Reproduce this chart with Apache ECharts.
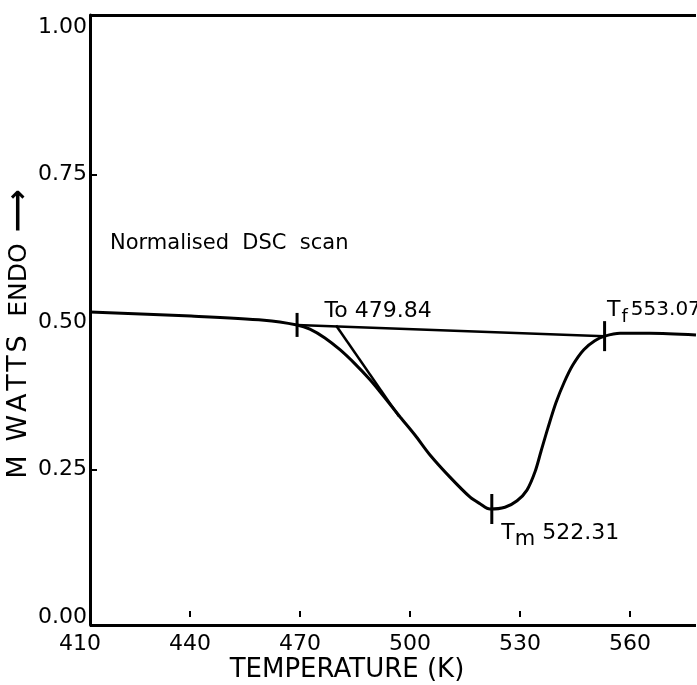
<!DOCTYPE html>
<html>
<head>
<meta charset="utf-8">
<script src="https://cdn.jsdelivr.net/npm/echarts@6/dist/echarts.min.js"></script>
<style>
  html, body { margin: 0; padding: 0; background: #fff; }
  #chart { width: 697px; height: 685px; }
</style>
</head>
<body>
<div id="chart"></div>
<script>
// DSC scan
const temps = [412.7, 440.3, 460.2, 469.2, 472.7, 476.8, 480.9, 485.0, 489.1, 493.2, 497.3, 501.4,
  505.4, 510.9, 516.4, 519.1, 521.8, 525.9, 529.2, 531.9, 534.1, 535.7, 537.6, 539.8, 542.0,
  544.4, 547.4, 550.4, 553.1, 557.3, 565.4, 578.0];
const power = [0.517, 0.510, 0.503, 0.495, 0.488, 0.473, 0.453, 0.429, 0.402, 0.371, 0.339, 0.308,
  0.275, 0.237, 0.203, 0.192, 0.183, 0.186, 0.197, 0.215, 0.246, 0.280, 0.320, 0.363, 0.397,
  0.427, 0.453, 0.468, 0.476, 0.481, 0.481, 0.478];

// extrapolated baseline and onset tangent
const baseline = [[469.2, 0.495], [553.07, 0.476]];
const tangent = [[479.84, 0.494], [497.0, 0.340]];

// marked points: To (tick on curve), Tm, Tf
const markers = [
  { name: 'To', value: 479.84, at: [469.2, 0.495] },
  { name: 'Tm', value: 522.31, at: [522.31, 0.183] },
  { name: 'Tf', value: 553.07, at: [553.07, 0.476] }
];

const xTicks = [440, 470, 500, 530, 560];
const xLabels = [410, 440, 470, 500, 530, 560];
const yTicks = [0.25, 0.75];
const yLabels = [0, 0.25, 0.5, 0.75, 1];

const X_MIN = 410, X_MAX = 578, Y_MIN = -0.0136, Y_MAX = 1.0203;
const AXIS_START = 412.7; // where the drawn frame begins
const FONT = '"DejaVu Sans", "Liberation Sans", sans-serif';

const chart = echarts.init(document.getElementById('chart'), null, { renderer: 'canvas' });

const labelCfg = {
  To: { offset: [26, -14], text: '{t|To}{n| 479.84}' },
  Tm: { offset: [8, 24], text: '{t|T}{s|m}{n| 522.31}' },
  Tf: { offset: [1, -26], text: '{t|T}{f|f}{m|553.07}' }
};

const rich = {
  t: { fontSize: 22, fontFamily: FONT, color: '#000' },
  s: { fontSize: 21, fontFamily: FONT, color: '#000', padding: [14, 0, 0, 0] },
  f: { fontSize: 18, fontFamily: FONT, color: '#000', padding: [14, 3, 0, 1] },
  n: { fontSize: 22, fontFamily: FONT, color: '#000' },
  m: { fontSize: 20, fontFamily: FONT, color: '#000' }
};

const option = {
  backgroundColor: '#fff',
  animation: false,
  grid: { left: 80, right: 1, top: 15, bottom: 60 },
  xAxis: {
    type: 'value',
    min: X_MIN,
    max: X_MAX,
    axisLine: { show: false },
    splitLine: { show: false },
    axisTick: { show: true, inside: true, length: 6, customValues: xTicks, lineStyle: { color: '#000', width: 2 } },
    axisLabel: { customValues: xLabels, color: '#000', fontSize: 22, fontFamily: FONT, margin: 8 }
  },
  yAxis: {
    type: 'value',
    min: Y_MIN,
    max: Y_MAX,
    offset: -10,
    axisLine: { show: true, lineStyle: { color: '#000', width: 3 } },
    splitLine: { show: false },
    axisTick: { show: true, inside: true, length: 7, customValues: yTicks, lineStyle: { color: '#000', width: 2 } },
    axisLabel: {
      customValues: yLabels, color: '#000', fontSize: 22, fontFamily: FONT, margin: 3,
      formatter: v => v.toFixed(2)
    }
  },
  graphic: [
    {
      type: 'text', x: 19, y: 407, rotation: Math.PI / 2,
      style: { text: 'M\u200a \u200aW\u200aA\u200aT\u200aT\u200aS', fill: '#000', font: '27px ' + FONT, textAlign: 'center', textVerticalAlign: 'middle' }
    },
    {
      type: 'text', x: 19, y: 280, rotation: Math.PI / 2,
      style: { text: 'ENDO', fill: '#000', font: '25px ' + FONT, textAlign: 'center', textVerticalAlign: 'middle' }
    },
    {
      type: 'text', x: 19, y: 211, rotation: Math.PI / 2,
      style: { text: '⟶', fill: '#000', font: 'bold 30px ' + FONT, textAlign: 'center', textVerticalAlign: 'middle' }
    },
    {
      type: 'text', x: 347, y: 670,
      style: { text: 'TEMPERATURE (K)', fill: '#000', font: '26px ' + FONT, textAlign: 'center', textVerticalAlign: 'middle' }
    },
    {
      type: 'text', x: 110, y: 244,
      style: { text: 'Normalised  DSC  scan', fill: '#000', font: '21px ' + FONT, textAlign: 'left', textVerticalAlign: 'middle' }
    }
  ],
  series: [
    {
      type: 'line',
      data: temps.map((t, i) => [t, power[i]]),
      smooth: 0.3,
      symbol: 'none',
      lineStyle: { color: '#000', width: 3 }
    },
    {
      type: 'line',
      data: baseline,
      symbol: 'none',
      lineStyle: { color: '#000', width: 2.5 }
    },
    {
      type: 'line',
      data: tangent,
      symbol: 'none',
      lineStyle: { color: '#000', width: 2.5 }
    },
    {
      type: 'scatter',
      data: markers.map(m => ({ name: m.name, value: m.at })),
      symbol: 'rect',
      symbolSize: (v, p) => (p.name === 'To' ? [3, 24] : [3, 30]),
      itemStyle: { color: '#000', opacity: 1 },
      label: {
        show: true,
        position: 'right',
        distance: 0,
        color: '#000',
        rich: rich,
        formatter: p => labelCfg[p.name].text
      },
      labelLayout: p => ({
        dx: labelCfg[markers[p.dataIndex].name].offset[0],
        dy: labelCfg[markers[p.dataIndex].name].offset[1]
      }),
      z: 5
    },
    {
      // frame: top border and bottom axis line, starting at the y axis
      type: 'line',
      data: [],
      clip: false,
      markLine: {
        silent: true,
        symbol: 'none',
        label: { show: false },
        lineStyle: { color: '#000', width: 3, type: 'solid' },
        data: [
          [{ coord: [AXIS_START, Y_MAX] }, { coord: [X_MAX, Y_MAX] }],
          [{ coord: [AXIS_START, Y_MIN] }, { coord: [X_MAX, Y_MIN] }]
        ]
      }
    }
  ]
};

chart.setOption(option);
</script>
</body>
</html>
